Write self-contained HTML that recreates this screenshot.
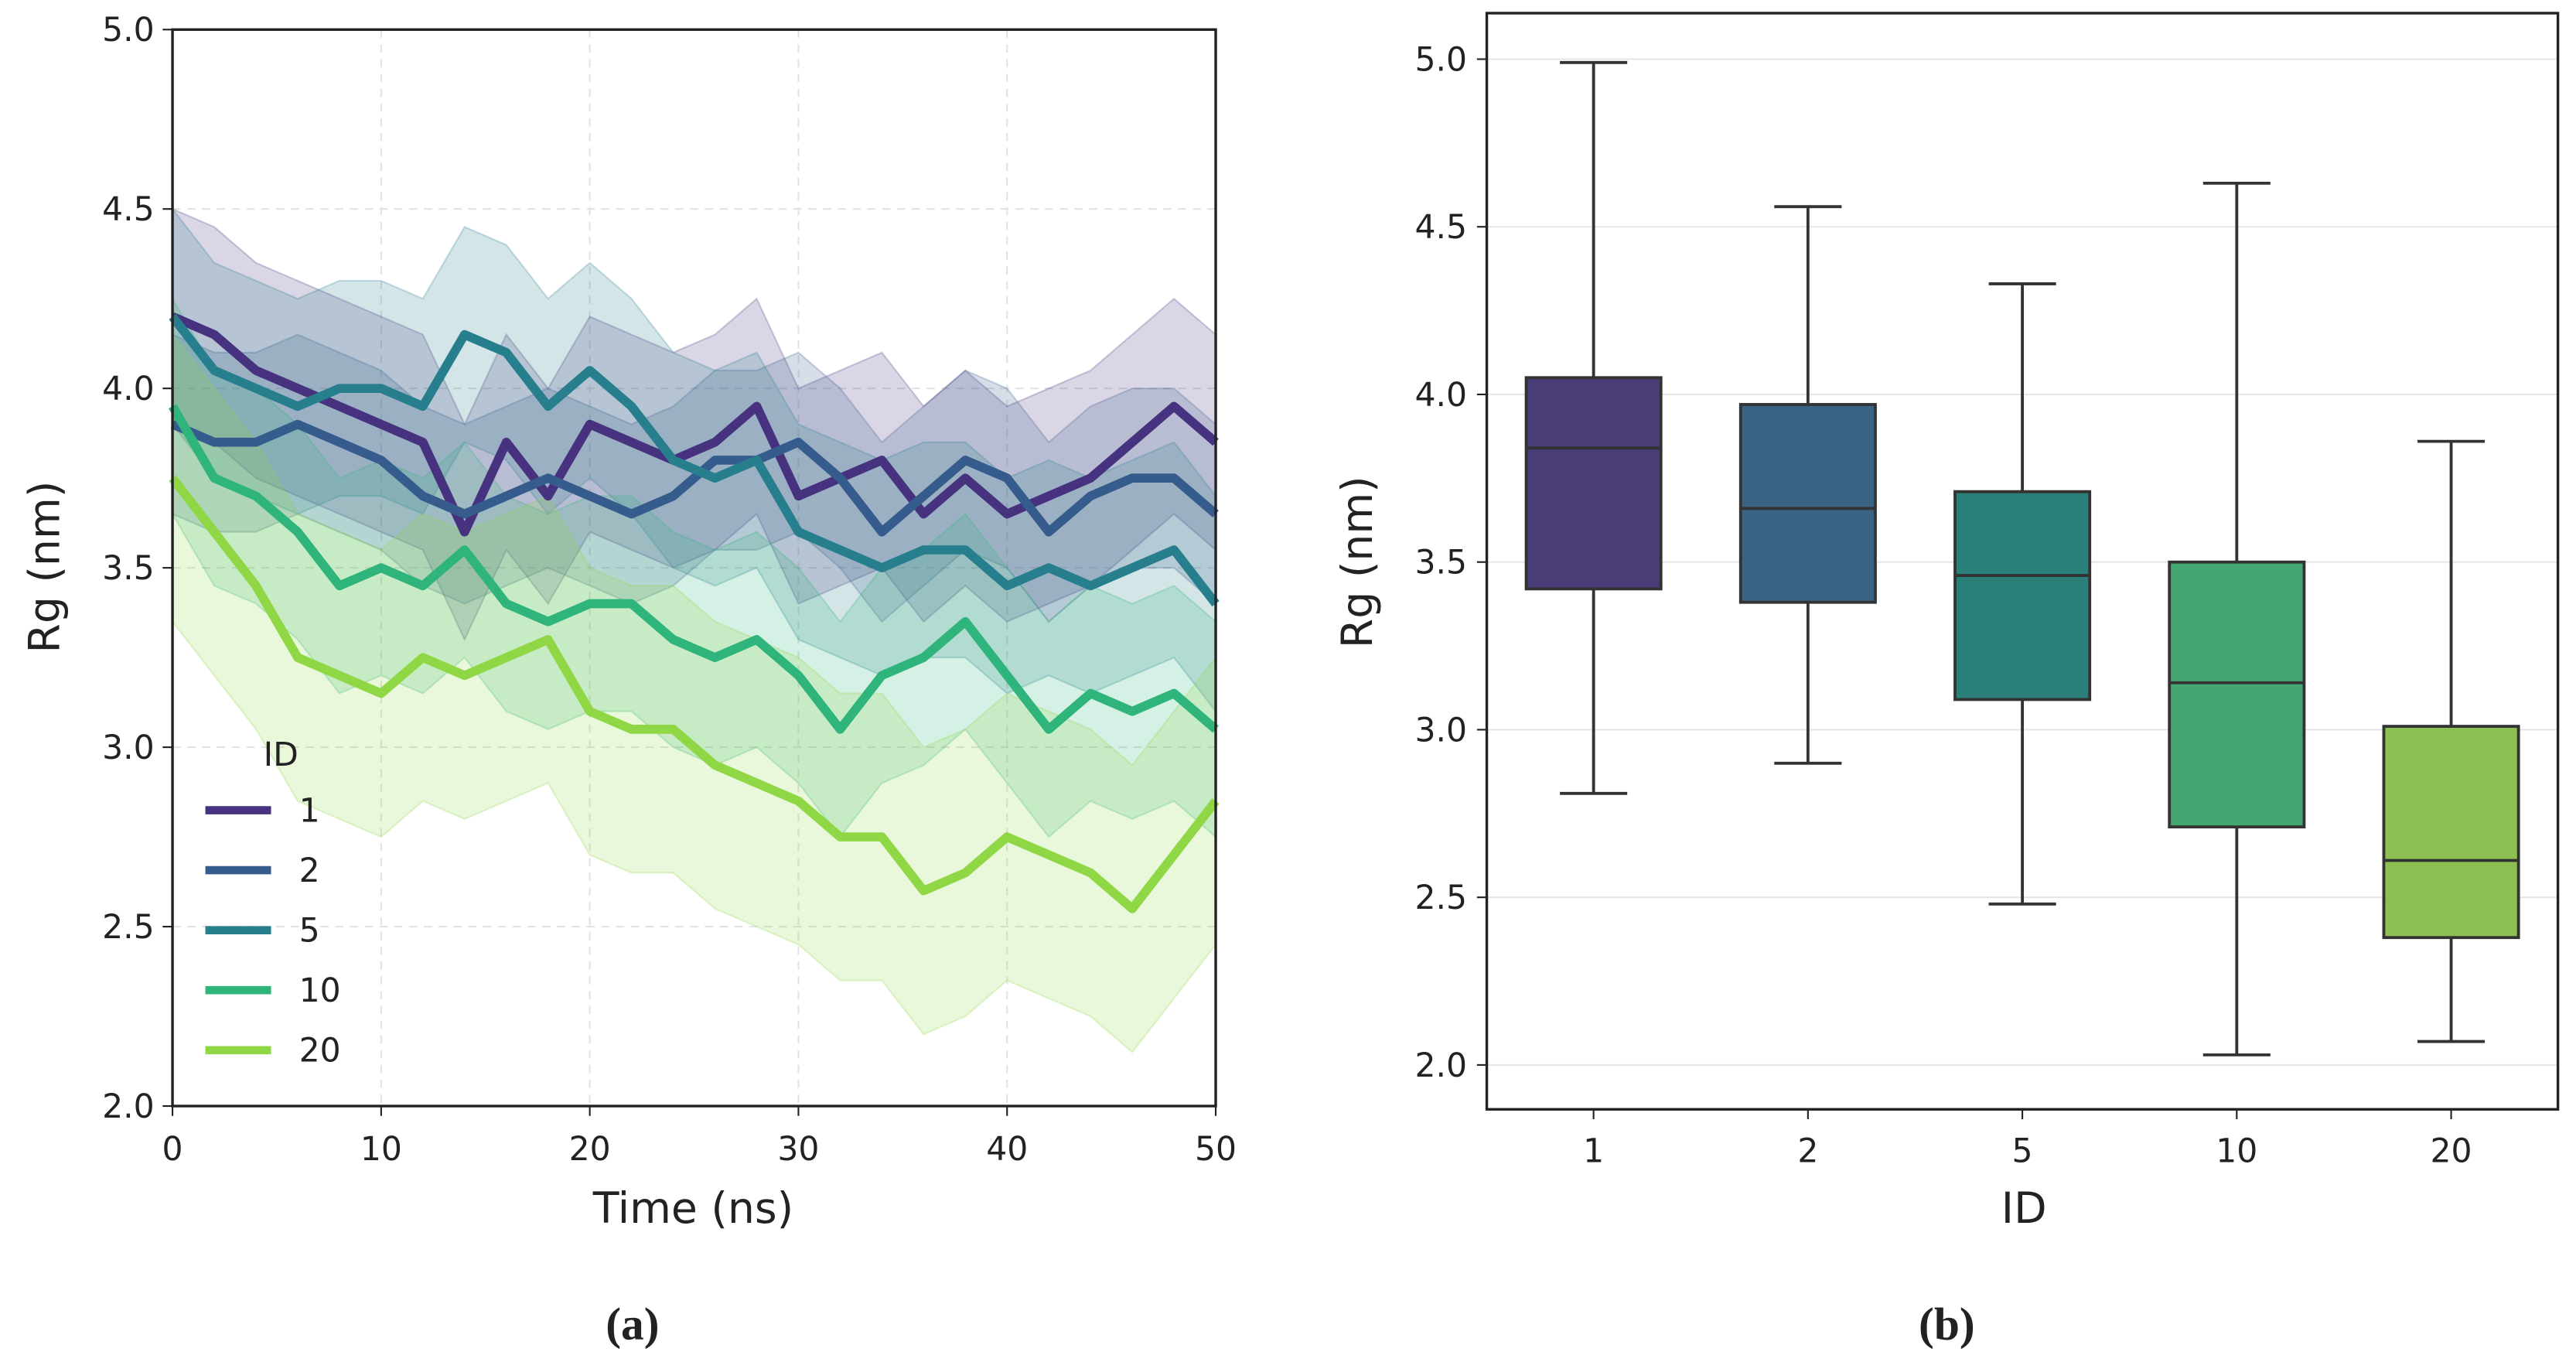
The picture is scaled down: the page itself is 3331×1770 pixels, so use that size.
<!DOCTYPE html>
<html><head><meta charset="utf-8"><style>
html,body{margin:0;padding:0;background:#fff}
svg{display:block}
text{font-family:"DejaVu Sans","Liberation Sans",sans-serif;fill:#222}
</style></head><body>
<svg id="fig" width="3331" height="1770" viewBox="0 0 1568 833" preserveAspectRatio="none" xmlns="http://www.w3.org/2000/svg">
<g id="left"></g>
<g id="right"></g>
<text x="385" y="815" text-anchor="middle" style="font-family:'Liberation Serif',serif;font-size:28px;font-weight:bold">(a)</text>
<text x="1185" y="815" text-anchor="middle" style="font-family:'Liberation Serif',serif;font-size:28px;font-weight:bold">(b)</text>
</svg>
<script>
const ids = ["1","2","5","10","20"];
const colors = ["#46327e","#365c8d","#277f8e","#2fb47c","#8fd744"];
const times = [0,2,4,6,8,10,12,14,16,18,20,22,24,26,28,30,32,34,36,38,40,42,44,46,48,50];
const s1 = [4.2,4.15,4.05,4.0,3.95,3.9,3.85,3.6,3.85,3.7,3.9,3.85,3.8,3.85,3.95,3.7,3.75,3.8,3.65,3.75,3.65,3.7,3.75,3.85,3.95,3.85];
const s2 = [3.9,3.85,3.85,3.9,3.85,3.8,3.7,3.65,3.7,3.75,3.7,3.65,3.7,3.8,3.8,3.85,3.75,3.6,3.7,3.8,3.75,3.6,3.7,3.75,3.75,3.65];
const s5 = [4.2,4.05,4.0,3.95,4.0,4.0,3.95,4.15,4.1,3.95,4.05,3.95,3.8,3.75,3.8,3.6,3.55,3.5,3.55,3.55,3.45,3.5,3.45,3.5,3.55,3.4];
const s10 = [3.95,3.75,3.7,3.6,3.45,3.5,3.45,3.55,3.4,3.35,3.4,3.4,3.3,3.25,3.3,3.2,3.05,3.2,3.25,3.35,3.2,3.05,3.15,3.1,3.15,3.05];
const s20 = [3.75,3.6,3.45,3.25,3.2,3.15,3.25,3.2,3.25,3.3,3.1,3.05,3.05,2.95,2.9,2.85,2.75,2.75,2.6,2.65,2.75,2.7,2.65,2.55,2.7,2.85];
const spreads = [0.3,0.25,0.3,0.3,0.4];
const xTicks = [0,10,20,30,40,50];
const yTicks = [2.0,2.5,3.0,3.5,4.0,4.5,5.0];
const boxLow = [2.81,2.90,2.48,2.03,2.07];
const boxQ1 = [3.42,3.38,3.09,2.71,2.38];
const boxMed = [3.84,3.66,3.46,3.14,2.61];
const boxQ3 = [4.05,3.97,3.71,3.50,3.01];
const boxHigh = [4.99,4.56,4.33,4.63,3.86];
const boxColors = ["#4a3d78","#3a6383","#2a8079","#44a672","#8dbf52"];
const bYTicks = [2.0,2.5,3.0,3.5,4.0,4.5,5.0];

const NS="http://www.w3.org/2000/svg";
function mk(parent,tag,attrs,txt){const e=document.createElementNS(NS,tag);for(const k in attrs)e.setAttribute(k,attrs[k]);if(txt!==undefined)e.textContent=txt;parent.appendChild(e);return e;}

const L=document.getElementById('left');
const lx=t=>105+(t/50)*635;
const ly=v=>673-(v-2)/3*655;
for(const t of xTicks){const g=mk(L,'line',{x1:lx(t),x2:lx(t),y1:18,y2:673,stroke:'#e3e3e3','stroke-dasharray':'5,4','stroke-width':1});

}
for(const v of yTicks){const g=mk(L,'line',{x1:105,x2:740,y1:ly(v),y2:ly(v),stroke:'#e3e3e3','stroke-dasharray':'5,4','stroke-width':1});

}
const series=[s1,s2,s5,s10,s20];
series.forEach((s,i)=>{
  let up=s.map((v,j)=>lx(times[j])+','+ly(v+spreads[i])).join(' ');
  let dn=s.map((v,j)=>lx(times[j])+','+ly(v-spreads[i])).reverse().join(' ');
  const b=mk(L,'polygon',{points:up+' '+dn,fill:colors[i],'fill-opacity':0.2,stroke:colors[i],'stroke-opacity':0.25});
  
  
});
series.forEach((s,i)=>{
  const p=mk(L,'polyline',{points:s.map((v,j)=>lx(times[j])+','+ly(v)).join(' '),fill:'none',stroke:colors[i],'stroke-width':5.5,'stroke-linejoin':'round'});
  
  
});
const lf=mk(L,'rect',{x:105,y:18,width:635,height:655,fill:'none',stroke:'#222','stroke-width':1.6});


for(const t of xTicks){mk(L,'line',{x1:lx(t),x2:lx(t),y1:673,y2:679,stroke:'#222'});
const tx=mk(L,'text',{x:lx(t),y:706,'text-anchor':'middle','font-size':20},String(t));

}
for(const v of yTicks){mk(L,'line',{x1:99,x2:105,y1:ly(v),y2:ly(v),stroke:'#222'});
const tx=mk(L,'text',{x:94,y:ly(v)+7,'text-anchor':'end','font-size':20},v.toFixed(1));

}
const xt=mk(L,'text',{x:422,y:744,'text-anchor':'middle','font-size':26},'Time (ns)');


const yt=mk(L,'text',{x:36,y:345,'text-anchor':'middle','font-size':26,transform:'rotate(-90 36 345)'},'Rg (nm)');


const lt=mk(L,'text',{x:171,y:466,'text-anchor':'middle','font-size':20},'ID');


ids.forEach((id,i)=>{const y=493+i*36.5;
  const ln=mk(L,'line',{x1:125,x2:165,y1:y,y2:y,stroke:colors[i],'stroke-width':5});
  
  
  const t=mk(L,'text',{x:182,y:y+7,'font-size':20},id);
  
  
});

const R=document.getElementById('right');
const by=v=>648-(v-2)/3*612;
const bx=i=>970+i*130.5;
for(const v of bYTicks){const g=mk(R,'line',{x1:905,x2:1557,y1:by(v),y2:by(v),stroke:'#e6e6e6','stroke-width':1});

}
ids.forEach((id,i)=>{const c=bx(i),w=82,cw=41;
  const wl=mk(R,'path',{d:`M${c},${by(boxLow[i])}V${by(boxQ1[i])}M${c},${by(boxQ3[i])}V${by(boxHigh[i])}M${c-cw/2},${by(boxLow[i])}H${c+cw/2}M${c-cw/2},${by(boxHigh[i])}H${c+cw/2}`,stroke:'#333','stroke-width':1.8,fill:'none'});
  
  
  const r=mk(R,'rect',{x:c-w/2,y:by(boxQ3[i]),width:w,height:by(boxQ1[i])-by(boxQ3[i]),fill:boxColors[i],stroke:'#333','stroke-width':1.8});
  
  
  const m=mk(R,'line',{x1:c-w/2,x2:c+w/2,y1:by(boxMed[i]),y2:by(boxMed[i]),stroke:'#333','stroke-width':1.8});
  
  
  mk(R,'line',{x1:c,x2:c,y1:675,y2:681,stroke:'#222'});
  const t=mk(R,'text',{x:c,y:707,'text-anchor':'middle','font-size':20},id);
  
  
});
const rf=mk(R,'rect',{x:905,y:8,width:652,height:667,fill:'none',stroke:'#222','stroke-width':1.6});


for(const v of bYTicks){mk(R,'line',{x1:899,x2:905,y1:by(v),y2:by(v),stroke:'#222'});
const tx=mk(R,'text',{x:893,y:by(v)+7,'text-anchor':'end','font-size':20},v.toFixed(1));

}
const rxt=mk(R,'text',{x:1232,y:744,'text-anchor':'middle','font-size':26},'ID');


const ryt=mk(R,'text',{x:835,y:342,'text-anchor':'middle','font-size':26,transform:'rotate(-90 835 342)'},'Rg (nm)');


</script>
</body></html>
